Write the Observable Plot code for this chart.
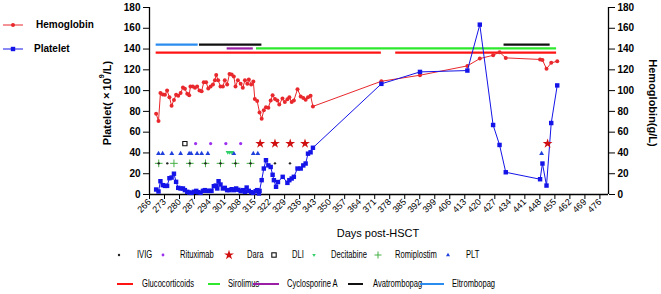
<!DOCTYPE html>
<html>
<head>
<meta charset="utf-8">
<script src="https://cdn.jsdelivr.net/npm/d3@7"></script>
<script src="https://cdn.jsdelivr.net/npm/@observablehq/plot@0.6"></script>
<style>
  html, body { margin: 0; padding: 0; background: #fff; }
  #wrap { position: relative; width: 661px; height: 294px; font-family: 'Liberation Sans', Arial, sans-serif; color: #000; }
  #wrap svg.plot { position: absolute; left: 0; top: 0; }
  .lbl { position: absolute; white-space: nowrap; line-height: 1; }
  .leg { position: absolute; white-space: nowrap; line-height: 1; font-family: 'Liberation Sans', Arial, sans-serif; font-size: 10px; transform: translateY(-50%) scaleX(0.76); transform-origin: 0 50%; }
  .sw { position: absolute; }
</style>
</head>
<body>
<div id="wrap"></div>
<script>
// ---------- DATA ----------
const xTicks = [266,273,280,287,294,301,308,315,322,329,336,343,350,357,364,371,378,385,392,399,406,413,420,427,434,441,448,455,462,469,476];
const yTicks = [0,20,40,60,80,100,120,140,160,180];

const hbDays = [269.1,270.2,271.1,272.2,273.2,274.2,275.3,276.3,277.4,278.4,
  279.4,280.5,281.6,282.5,283.6,284.5,285.1,286.2,287.2,288.2,
  289.3,290.3,291.3,292.4,293.4,294.5,295.6,296.5,297.1,298.0,
  299.1,300.2,301.1,302.2,303.3,304.3,305.3,306.1,307.2,308.5,
  309.5,310.5,311.6,312.3,313.4,314.4,315.1,316.2,317.3,318.3,
  319.3,320.3,321.4,322.5,323.4,324.5,325.6,326.5,328.0,329.1,
  330.3,331.2,332.3,333.3,335.0,336.5,337.7,338.8,339.9,341.1,
  342.2,
  374.1,392.1,414.2,420.0,426.2,429.2,432.1,448.1,449.2,451.1,453.3,456.1];
const hbVals = [77.7,70.7,97.6,96.3,96,100,93.7,85.4,91,96,
  95,97.6,103,101.7,97,95.6,104,104,102.7,104,
  100,99.5,108,108,102,104,106,110,115,110,
  104,104,110,106,116,115.5,113.6,104,110,106.5,
  102.7,110,106.5,110.7,106,108.8,92,90,79,73,
  81,84,83.5,90.5,95.6,92,90.5,86.7,92.5,89,
  91.8,93.7,89,90.5,101.4,94.4,93,91.2,93.7,95,
  84.8,
  109,114.8,123.8,130.8,134,137,131.5,130,129.5,121,126.7,128.3];

const pltDays = [269.1,270.2,271.1,272.2,273.2,274.2,275.3,276.3,277.4,278.4,
  279.4,280.5,281.6,282.5,283.6,284.5,285.6,286.7,287.8,288.7,
  289.8,290.9,291.8,292.9,294.0,294.9,296.0,296.9,297.6,298.2,
  299.1,300.2,301.1,302.2,303.3,304.3,305.3,306.4,307.4,308.5,
  309.5,310.5,311.3,312.3,313.4,314.4,315.5,316.2,317.0,317.3,
  318.3,319.3,320.3,321.4,322.5,323.4,324.0,325.0,325.9,328.1,
  330.3,331.2,332.3,333.3,335.0,336.5,337.7,338.8,339.9,341.1,
  342.2,
  374.1,392.1,414.2,420.0,426.2,429.2,432.1,448.1,449.2,451.1,453.3,456.1];
const pltVals = [4.8,2.9,12.8,9,8.3,8.3,15.7,16.3,20,12.2,
  6.4,5.8,5.8,4.2,2.6,1.9,1.6,2.6,3.5,2.2,
  1.6,3.5,4.2,3.5,3.5,3.5,8,8.6,5.8,12.8,
  9.6,5.8,6.4,4.2,4.2,5.1,4.2,5.8,4.5,3.2,
  4.2,2.6,6.7,3.5,2.2,1.6,3.2,4.2,1,3.5,
  13.8,25,33,28,26.5,19,13.8,7.4,12,17,
  11.2,13.8,15.4,17,25,25,28,29.8,39.3,40.6,
  45,
  106.5,118,119.3,163.5,66.9,47.7,21.4,14.7,29.8,8.6,68.8,105];

// treatment periods
const treatNames = ["Glucocorticoids","Sirolimus","Cyclosporine A","Avatrombopag","Eltrombopag"];
const treatStarts = [[269.1,380.8],[315.9],[302.2],[289.3,431.3],[269.1]];
const treatEnds = [[374.1,455.8],[455.8],[314.4],[318.4,452.8],[288.7]];
const treatLevels = [136.5,140.6,140.6,144.2,144.2];

// single-day events
const eventNames = ["IVIG","Rituximab","Dara","DLI","Decitabine","Romiplostim","PLT"];
const ivigDays = [270.3,274.3,284.8,292.1,299.1,306.1,313.1,324.5,331.5];
const rituxDays = [287.5,294.5,301.6,308.5];
const daraDays = [317.6,324.5,331.6,338.5,451.6];
const dliDays = [282.5];
const deciDays = [302.5,303.4,304.4];
const romiDays = [270.3,277.4,284.8,292.1,299.1,306.1,313.1];
const pltTxDays = [270.2,272.1,276.4,280.5,284.5,285.4,288.2,290.3,293.2,305.3,314.4,316.5,448.8];
const eventLevels = {IVIG: 30, Rituximab: 49, Dara: 49, DLI: 49, Decitabine: 40.6, Romiplostim: 30, PLT: 39.3};

// ---------- STYLE ----------
const C = {
  hb: "#e8282c", plt: "#1414e8",
  Glucocorticoids: "#ff1414", Sirolimus: "#2ee82e", "Cyclosporine A": "#9a1ea6", Avatrombopag: "#111111", Eltrombopag: "#2b8cf0",
  IVIG: "#222222", Rituximab: "#9b30ee", Dara: "#d01010", DLI: "#111111", Decitabine: "#2fcf6a", Romiplostim: "#44b044", PLT: "#2040dd"
};

// ---------- TABLES ----------
const hb = hbDays.map((d, i) => ({day: d, val: hbVals[i]}));
const plt = pltDays.map((d, i) => ({day: d, val: pltVals[i]}));
const pts = (days, name) => days.map(d => ({day: d, val: eventLevels[name]}));

const segMarks = treatNames.map((name, k) =>
  Plot.ruleY(treatStarts[k].map((s, j) => ({s, e: treatEnds[k][j], y: treatLevels[k]})),
    {x1: "s", x2: "e", y: "y", stroke: C[name], strokeWidth: 2.2})
);

const chart = Plot.plot({
  width: 661, height: 245,
  marginLeft: 149, marginRight: 53, marginTop: 7, marginBottom: 51,
  x: {domain: [266, 480]},
  y: {domain: [0, 180]},
  style: {fontFamily: "'Liberation Sans', Arial, sans-serif", fontSize: "10px", color: "#000", background: "transparent", overflow: "visible"},
  marks: [
    Plot.ruleX([266], {stroke: "#000", strokeWidth: 1.3}),
    Plot.ruleX([480], {stroke: "#000", strokeWidth: 1.3}),
    Plot.ruleY([0], {stroke: "#000", strokeWidth: 1.3}),
    Plot.axisX({ticks: xTicks, tickFormat: d => String(d), tickRotate: -45, tickSize: 5, tickPadding: 1, fontSize: 9, label: null}),
    Plot.axisY({ticks: yTicks, tickSize: 6, tickPadding: 3, fontSize: 10, fontWeight: "bold", label: null}),
    Plot.axisY({anchor: "right", ticks: yTicks, tickSize: 6, tickPadding: 3, fontSize: 10, fontWeight: "bold", label: null}),
    ...segMarks,
    Plot.line(hb, {x: "day", y: "val", stroke: C.hb, strokeWidth: 1}),
    Plot.dot(hb, {x: "day", y: "val", r: 2, fill: C.hb}),
    Plot.line(plt, {x: "day", y: "val", stroke: C.plt, strokeWidth: 1}),
    Plot.dot(plt, {x: "day", y: "val", symbol: "square", r: 2.5, fill: C.plt}),
    Plot.dot(pts(romiDays, "Romiplostim"), {x: "day", y: "val", symbol: "plus", r: 2.6, stroke: C.Romiplostim, strokeWidth: 1}),
    Plot.dot(pts(ivigDays, "IVIG"), {x: "day", y: "val", r: 1.2, fill: C.IVIG}),
    Plot.dot(pts(pltTxDays, "PLT"), {x: "day", y: "val", symbol: "triangle", r: 1.8, fill: C.PLT}),
    Plot.dot(pts(deciDays, "Decitabine"), {x: "day", y: "val", symbol: "triangle", rotate: 180, r: 1.6, fill: C.Decitabine}),
    Plot.dot(pts(rituxDays, "Rituximab"), {x: "day", y: "val", r: 1.6, fill: C.Rituximab}),
    Plot.dot(pts(dliDays, "DLI"), {x: "day", y: "val", symbol: "square", r: 2.4, fill: "none", stroke: C.DLI, strokeWidth: 1.1}),
    Plot.dot(pts(daraDays, "Dara"), {x: "day", y: "val", symbol: "star", r: 3.1, fill: C.Dara})
  ]
});
chart.classList.add("plot");
const wrap = document.getElementById("wrap");
wrap.appendChild(chart);

// ---------- TEXT OVERLAYS ----------
function addLabel(html, cx, cy, css, vertical, flip) {
  const d = document.createElement("div");
  d.className = "lbl";
  d.innerHTML = html;
  d.style.left = cx + "px";
  d.style.top = cy + "px";
  if (vertical) d.style.writingMode = "vertical-rl";
  d.style.transform = `translate(-50%,-50%)` + (flip ? " rotate(180deg)" : "");
  Object.assign(d.style, css || {});
  wrap.appendChild(d);
}
addLabel("Platelet(×10<sup style='font-size:7px;line-height:0'>9</sup>/L)", 106.5, 103, {fontWeight: "bold", fontSize: "11px"}, true, true);
addLabel("Hemoglobin(g/L)", 652, 103, {fontWeight: "bold", fontSize: "11px"}, true, false);
addLabel("Days post-HSCT", 378, 233, {fontSize: "11px"});

// ---------- LEGENDS ----------
function swatchSvg(x, y, w, h, inner) {
  const s = document.createElementNS("http://www.w3.org/2000/svg", "svg");
  s.setAttribute("class", "sw");
  s.setAttribute("width", w); s.setAttribute("height", h);
  s.style.left = (x - w / 2) + "px"; s.style.top = (y - h / 2) + "px";
  s.style.overflow = "visible";
  s.innerHTML = inner;
  wrap.appendChild(s);
}
function text(str, x, y, css) {
  const d = document.createElement("div");
  d.className = "leg";
  d.textContent = str;
  d.style.left = x + "px"; d.style.top = y + "px";
  Object.assign(d.style, css || {});
  wrap.appendChild(d);
}
const sym = (type, r) => d3.symbol(type, Math.PI * r * r)();

// top-left series legend
const seriesNames = ["Hemoglobin", "Platelet"];
const topY = [24.7, 48.7], topTextX = [36, 34];
swatchSvg(13, topY[0], 22, 8, `<line x1="1" x2="21" y1="4" y2="4" stroke="${C.hb}" stroke-width="1"/><circle cx="11" cy="4" r="2" fill="${C.hb}"/>`);
swatchSvg(13, topY[1], 22, 8, `<line x1="1" x2="21" y1="4" y2="4" stroke="${C.plt}" stroke-width="1"/><rect x="8.8" y="1.8" width="4.4" height="4.4" fill="${C.plt}"/>`);
seriesNames.forEach((n, i) => text(n, topTextX[i], topY[i], {fontSize: "10px", fontWeight: "bold", transform: "translateY(-50%)"}));

// event legend (row 1)
const ev = {
  IVIG: `<circle cx="6" cy="6" r="1.2" fill="${C.IVIG}"/>`,
  Rituximab: `<circle cx="6" cy="6" r="1.4" fill="${C.Rituximab}"/>`,
  Dara: `<path transform="translate(6,6)" d="${sym(d3.symbolStar, 3.1)}" fill="${C.Dara}"/>`,
  DLI: `<rect x="3.8" y="3.8" width="4.4" height="4.4" fill="none" stroke="${C.DLI}" stroke-width="1.1"/>`,
  Decitabine: `<path transform="translate(6,6) rotate(180)" d="${sym(d3.symbolTriangle, 1.3)}" fill="${C.Decitabine}"/>`,
  Romiplostim: `<path transform="translate(6,6)" d="${sym(d3.symbolPlus, 2.4)}" fill="none" stroke="${C.Romiplostim}" stroke-width="1"/>`,
  PLT: `<path transform="translate(6,6)" d="${sym(d3.symbolTriangle, 1.5)}" fill="${C.PLT}"/>`
};
const row1Y = 255.3;
const row1MarkX = [119, 163, 229, 274, 314, 378, 448];
const row1TextX = [137, 180, 247, 292, 331, 395, 466];
eventNames.forEach((n, i) => {
  swatchSvg(row1MarkX[i], row1Y, 12, 12, ev[n]);
  text(n, row1TextX[i], row1Y);
});

// treatment legend (row 2)
const row2Y = 284;
const row2X1 = [117, 208, 253, 348, 420], row2X2 = [133, 220, 279, 363, 444];
const row2TextX = [142, 228, 287, 373, 452];
treatNames.forEach((n, i) => {
  const w = row2X2[i] - row2X1[i];
  swatchSvg((row2X1[i] + row2X2[i]) / 2, row2Y, w, 4, `<line x1="0" x2="${w}" y1="2" y2="2" stroke="${C[n]}" stroke-width="2"/>`);
  text(n, row2TextX[i], row2Y);
});
</script>
</body>
</html>
